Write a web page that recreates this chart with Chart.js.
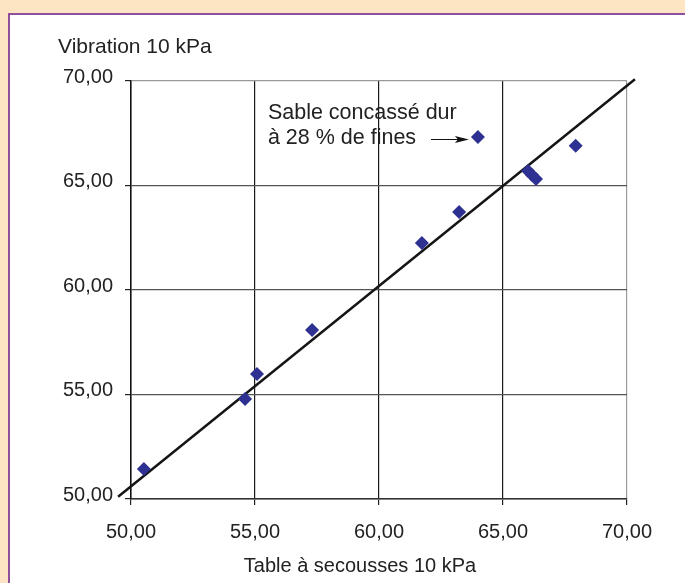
<!DOCTYPE html>
<html>
<head>
<meta charset="utf-8">
<script src="https://cdn.jsdelivr.net/npm/chart.js@4.4.1/dist/chart.umd.min.js"></script>
<style>
  body { margin: 0; background: #fde4c2; width: 685px; height: 583px; overflow: hidden; }
  #panel { position: absolute; left: 8px; top: 13px; width: 677px; height: 570px; background: #fff;
           border-left: 2px solid #8f4f9c; border-top: 2px solid #8f4f9c; }
  #chart-area { position: absolute; left: 0; top: 0; }
</style>
</head>
<body>
<div id="panel"></div>
<canvas id="chart-area" width="685" height="583"></canvas>
<script>
// table a secousses (x) vs vibration (y), both 10 kPa
let tableValues = [50.52, 54.60, 55.08, 57.30, 61.73, 63.23, 63.99, 66.01, 66.17, 66.33, 67.93];
let vibrationValues = [51.44, 54.78, 55.98, 58.09, 62.25, 63.73, 67.32, 65.69, 65.50, 65.31, 66.90];
let trendX = [49.48, 70.32];
let trendY = [50.11, 70.08];
let tickValues = [50, 55, 60, 65, 70];
let xTitle = 'Table à secousses 10 kPa';
let yTitle = 'Vibration 10 kPa';
let noteLines = ['Sable concassé dur', 'à 28 % de fines'];
let notePoint = 6; // index of the marked point

let fontFamily = '"Liberation Sans", Arial, sans-serif';
let fontSize = 20;

function fmt(v) {
  return v.toFixed(2).replace('.', ',');
}

let points = tableValues.map(function (v, i) { return { x: v, y: vibrationValues[i] }; });
let trend = trendX.map(function (v, i) { return { x: v, y: trendY[i] }; });

let extras = {
  id: 'extras',
  afterDraw: function (chart) {
    let ctx = chart.ctx;
    let xs = chart.scales.x;
    let ys = chart.scales.y;
    let area = chart.chartArea;
    ctx.save();
    ctx.fillStyle = '#222';
    ctx.textBaseline = 'alphabetic';
    ctx.textAlign = 'left';
    // axis titles (the x one sits left of centre in the original)
    ctx.font = '21px ' + fontFamily;
    ctx.fillText(yTitle, area.left - 73, ys.getPixelForValue(70) - 28);
    ctx.font = fontSize + 'px ' + fontFamily;
    ctx.textAlign = 'center';
    ctx.fillText(xTitle, area.left + 229, xs.bottom - 11);
    // note text
    ctx.textAlign = 'left';
    ctx.font = '21.5px ' + fontFamily;
    let tx = xs.getPixelForValue(55.52);
    let ty = ys.getPixelForValue(68.2);
    ctx.fillText(noteLines[0], tx, ty);
    ctx.fillText(noteLines[1], tx, ty + 25);
    // arrow to the point
    let px = xs.getPixelForValue(tableValues[notePoint]);
    let py = ys.getPixelForValue(vibrationValues[notePoint]) + 2;
    ctx.strokeStyle = '#111';
    ctx.lineWidth = 1;
    ctx.beginPath();
    ctx.moveTo(px - 47, py + 0.5);
    ctx.lineTo(px - 18, py + 0.5);
    ctx.stroke();
    ctx.fillStyle = '#111';
    ctx.beginPath();
    ctx.moveTo(px - 9, py + 0.5);
    ctx.lineTo(px - 23, py - 3);
    ctx.lineTo(px - 20, py + 0.5);
    ctx.lineTo(px - 23, py + 4);
    ctx.closePath();
    ctx.fill();
    ctx.restore();
  }
};

var ctx = document.getElementById('chart-area').getContext('2d');
var chart = new Chart(ctx, {
  type: 'scatter',
  data: {
    datasets: [{
      type: 'line',
      data: trend,
      borderColor: '#151515',
      borderWidth: 2.5,
      pointRadius: 0,
      clip: false,
      order: 2
    }, {
      data: points,
      backgroundColor: '#2e3192',
      borderColor: '#2e3192',
      borderWidth: 0,
      pointStyle: 'rectRot',
      pointRadius: 7,
      order: 1
    }]
  },
  options: {
    responsive: false,
    animation: false,
    devicePixelRatio: 1,
    layout: { padding: { top: 81, right: 58, left: 0, bottom: 0 } },
    plugins: { legend: { display: false }, tooltip: { enabled: false } },
    scales: {
      x: {
        type: 'linear',
        min: 50,
        max: 70,
        afterBuildTicks: function (s) { s.ticks = tickValues.map(function (v) { return { value: v }; }); },
        afterFit: function (s) { s.height = 84; },
        ticks: {
          callback: fmt,
          color: '#222',
          padding: 15,
          font: { family: fontFamily, size: fontSize }
        },
        grid: {
          color: function (c) { return c.tick && c.tick.value === 70 ? '#9a9a9a' : '#1a1a1a'; },
          lineWidth: 1.2,
          tickLength: 6,
          tickColor: '#222'
        },
        border: { color: '#333', width: 1.5 }
      },
      y: {
        type: 'linear',
        min: 50,
        max: 70,
        afterBuildTicks: function (s) { s.ticks = tickValues.map(function (v) { return { value: v }; }); },
        afterFit: function (s) { s.width = 131; },
        ticks: {
          callback: fmt,
          color: '#222',
          padding: 12,
          labelOffset: -4,
          font: { family: fontFamily, size: fontSize }
        },
        grid: {
          color: function (c) { return c.tick && c.tick.value === 70 ? '#9a9a9a' : '#555'; },
          lineWidth: 1.2,
          tickLength: 6,
          tickColor: '#222'
        },
        border: { color: '#111', width: 1.5 }
      }
    }
  },
  plugins: [extras]
});
</script>
</body>
</html>
